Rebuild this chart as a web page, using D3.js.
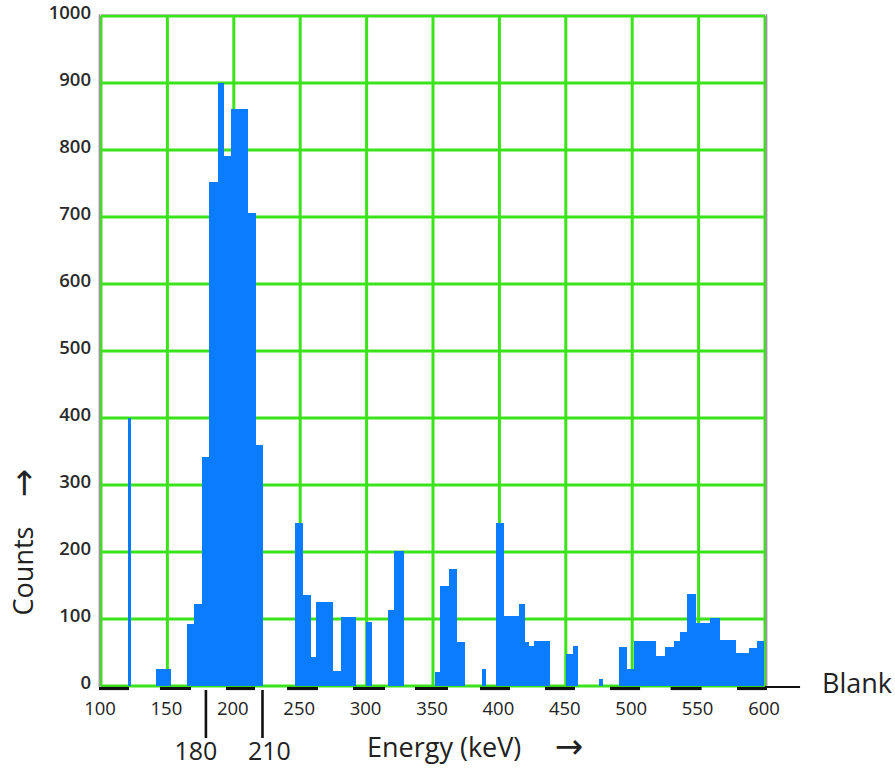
<!DOCTYPE html>
<html>
<head>
<meta charset="utf-8">
<script src="https://cdn.jsdelivr.net/npm/d3@7"></script>
<style>
  html, body { margin: 0; padding: 0; background: #fff; }
  svg { display: block; }
</style>
</head>
<body>
<svg id="chart" width="895" height="768"></svg>
<script>
// ---- data (energy in keV, counts) ----
const binStart = [120, 141.5, 164.5, 170.2, 176.3, 181.3, 187.9, 192.1, 197.7, 210.2, 216,
  246.3, 251.9, 257.4, 261.7, 273.9, 281, 299.3, 315.9, 320.9,
  351.7, 355.3, 362, 367.8, 387.1, 397.2, 403, 414.5, 418.5, 421.5, 426,
  450.2, 455.2, 475.2, 490, 495.9, 501.6, 517.7, 524.7, 531.5, 536.3, 541.5,
  547.3, 558.6, 565.4, 577.4, 588, 593.8];
const binEnd = [122, 152.5, 170.2, 176.3, 181.3, 187.9, 192.1, 197.7, 210.2, 216, 221.8,
  251.9, 257.4, 261.7, 273.9, 281, 291.8, 303.6, 320.9, 327.6,
  355.3, 362, 367.8, 373.6, 389.6, 403, 414.5, 418.5, 421.5, 426, 437.6,
  455.2, 459, 477.8, 495.9, 501.6, 517.7, 524.7, 531.5, 536.3, 541.5, 547.3,
  558.6, 565.4, 577.4, 588, 593.8, 598.7];
const counts = [400, 25, 92, 122, 342, 752, 900, 791, 861, 706, 359,
  243, 136, 43, 125, 23, 103, 95, 114, 201,
  21, 150, 174, 66, 26, 244, 104, 122, 65, 60, 67,
  48, 60, 11, 58, 25, 67, 45, 58, 67, 81, 138,
  94, 102, 69, 49, 56, 67];

const xTicks = [100, 150, 200, 250, 300, 350, 400, 450, 500, 550, 600];
const yTicks = [0, 100, 200, 300, 400, 500, 600, 700, 800, 900, 1000];

// dark segments drawn along the energy axis (keV)
const segStart = [98.5, 144.4, 194.1, 240.1, 289.8, 336.4, 385.4, 434.3, 483.3, 528.9, 578.9];
const segEnd   = [121.1, 167.8, 216.0, 263.4, 313.9, 361.3, 408.0, 456.9, 505.9, 552.3, 601.5];

// energy-window markers (label, position in keV on the plotted axis)
const markerLabels = ["180", "210"];
const markerPos = [179, 221.6];

const blankLineEnd = 626.4;

// ---- layout ----
const svg = d3.select("#chart");
const x = d3.scaleLinear().domain([100, 600]).range([101, 765]);
const y = d3.scaleLinear().domain([0, 1000]).range([686, 16]);

const green = "#3be41a";
const blue = "#0a7cff";
const textCol = "#222";

// grid
const grid = svg.append("g");
grid.selectAll("line.v").data(xTicks).join("line")
  .attr("x1", d => x(d)).attr("x2", d => x(d))
  .attr("y1", y(1000)).attr("y2", y(0))
  .attr("stroke", green).attr("stroke-width", 3);
grid.selectAll("line.h").data(yTicks).join("line")
  .attr("x1", x(100)).attr("x2", x(600))
  .attr("y1", d => y(d)).attr("y2", d => y(d))
  .attr("stroke", green).attr("stroke-width", 3);

// frame edges (grey)
svg.append("line").attr("x1", x(100) - 1.5).attr("x2", x(100) - 1.5)
  .attr("y1", y(1000) - 1.5).attr("y2", y(0) + 1)
  .attr("stroke", "#9a9a9a").attr("stroke-width", 1.8);
svg.append("line").attr("x1", x(600) + 1.5).attr("x2", x(600) + 1.5)
  .attr("y1", y(1000) - 1.5).attr("y2", y(0) + 1)
  .attr("stroke", "#9a9a9a").attr("stroke-width", 1.8);
svg.append("line").attr("x1", x(100) - 1.5).attr("x2", x(600) + 1.5)
  .attr("y1", y(1000) - 1.5).attr("y2", y(1000) - 1.5)
  .attr("stroke", "#a8c8a0").attr("stroke-width", 1);

// bars
const bins = counts.map((c, i) => ({ x0: binStart[i], x1: binEnd[i], c }));
svg.append("g").attr("shape-rendering", "crispEdges")
  .selectAll("rect").data(bins).join("rect")
  .attr("x", d => x(d.x0))
  .attr("width", d => Math.max(1, x(d.x1) - x(d.x0) + 0.6))
  .attr("y", d => y(d.c))
  .attr("height", d => y(0) - y(d.c))
  .attr("fill", blue);

// axis dark segments
const segs = segStart.map((s, i) => ({ s, e: segEnd[i] }));
svg.append("g").selectAll("line").data(segs).join("line")
  .attr("x1", d => x(d.s)).attr("x2", d => x(d.e))
  .attr("y1", y(0) + 2.5).attr("y2", y(0) + 2.5)
  .attr("stroke", "#111").attr("stroke-width", 3.2);
svg.append("line")
  .attr("x1", x(600)).attr("x2", x(blankLineEnd))
  .attr("y1", y(0) + 1).attr("y2", y(0) + 1)
  .attr("stroke", "#111").attr("stroke-width", 2);

// y tick labels
svg.append("g").selectAll("text").data(yTicks).join("text")
  .attr("x", 91).attr("y", d => y(d) - 3)
  .attr("dy", "0.35em")
  .attr("text-anchor", "end")
  .attr("font-family", "'Open Sans', sans-serif")
  .attr("font-size", 18.5)
  .attr("font-weight", 600)
  .attr("fill", "#2a2a2a")
  .text(d => d);

// x tick labels
svg.append("g").selectAll("text").data(xTicks).join("text")
  .attr("x", d => x(d) - 1).attr("y", 715)
  .attr("text-anchor", "middle")
  .attr("font-family", "'Open Sans', sans-serif")
  .attr("font-size", 18.5)
  .attr("fill", textCol)
  .text(d => d);

// energy-window markers
const markers = markerLabels.map((l, i) => ({ l, p: markerPos[i] }));
svg.append("g").selectAll("line").data(markers).join("line")
  .attr("x1", d => x(d.p)).attr("x2", d => x(d.p))
  .attr("y1", 690).attr("y2", 738)
  .attr("stroke", "#111").attr("stroke-width", 2.6);
svg.append("g").selectAll("text").data(markers).join("text")
  .attr("x", (d, i) => x(d.p) + (i === 0 ? -10 : 7)).attr("y", 760)
  .attr("text-anchor", "middle")
  .attr("font-family", "'Open Sans', sans-serif")
  .attr("font-size", 25)
  .attr("fill", textCol)
  .text(d => d.l);

// axis titles
svg.append("text")
  .attr("x", 367).attr("y", 757)
  .attr("font-family", "'Open Sans', sans-serif")
  .attr("font-size", 27)
  .attr("fill", textCol)
  .text("Energy (keV)");
svg.append("text")
  .attr("x", 569).attr("y", 758)
  .attr("text-anchor", "middle")
  .attr("font-family", "'DejaVu Sans', sans-serif")
  .attr("font-size", 34)
  .attr("fill", textCol)
  .text("→");

svg.append("text")
  .attr("transform", "translate(33,571) rotate(-90)")
  .attr("text-anchor", "middle")
  .attr("font-family", "'Open Sans', sans-serif")
  .attr("font-size", 27)
  .attr("fill", textCol)
  .text("Counts");
svg.append("text")
  .attr("transform", "translate(35,483) rotate(-90)")
  .attr("text-anchor", "middle")
  .attr("font-family", "'DejaVu Sans', sans-serif")
  .attr("font-size", 34)
  .attr("fill", textCol)
  .text("→");

svg.append("text")
  .attr("x", 822).attr("y", 693)
  .attr("font-family", "'Open Sans', sans-serif")
  .attr("font-size", 27)
  .attr("fill", textCol)
  .text("Blank");
</script>
</body>
</html>
